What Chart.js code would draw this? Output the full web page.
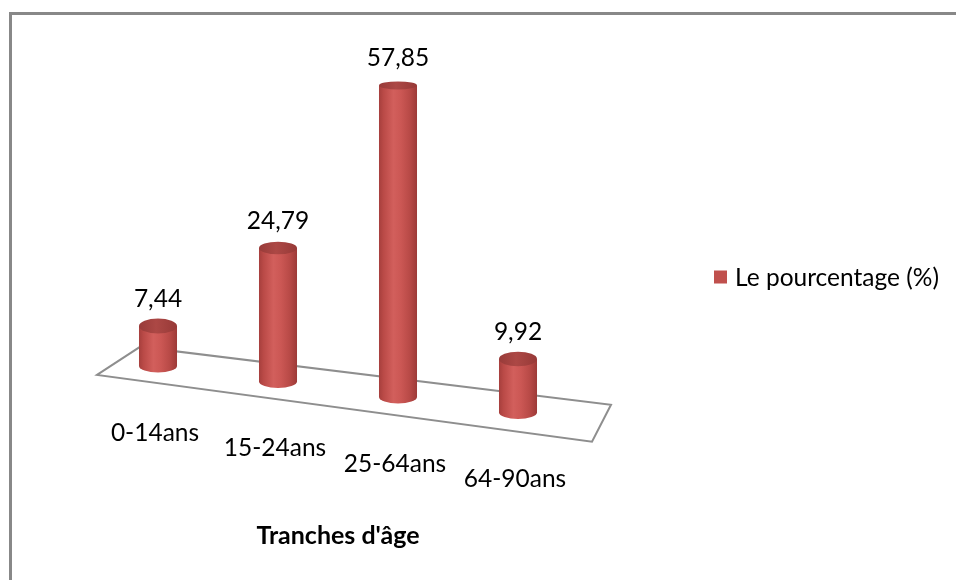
<!DOCTYPE html>
<html lang="fr">
<head>
<meta charset="utf-8">
<title>Tranches d'âge</title>
<script src="https://cdn.jsdelivr.net/npm/chart.js@4.4.1/dist/chart.umd.min.js"></script>
<style>
  html, body { margin: 0; padding: 0; background: #ffffff; }
  canvas { display: block; }
</style>
</head>
<body>
<canvas id="chart" width="956" height="580"></canvas>
<script>
// Data
const categories = ['0-14ans', '15-24ans', '25-64ans', '64-90ans'];
const percentages = [7.44, 24.79, 57.85, 9.92];
const seriesLabel = 'Le pourcentage (%)';
const axisTitle = "Tranches d'âge";
const valueMax = 65;

// Styling
const BAR_RED = '#C0504D';
const FONT = 'Lato, "Open Sans", sans-serif';
const TEXT_SIZE = 24.5;
const TITLE_SIZE = 25;
const FLOOR_SLOPE = 0.129;   // the floor recedes downward to the right

function formatValue(v) {
  return v.toFixed(2).replace('.', ',');
}

// y pixel of the floor's centre line at a given x
function floorY(chart, x) {
  const first = chart.getDatasetMeta(0).data[0];
  return chart.scales.y.getPixelForValue(0) + (x - first.x) * FLOOR_SLOPE;
}

function drawCylinder(ctx, cx, topY, baseY, rx) {
  const ryTop = Math.max(3.5, 8 - 0.0128 * (baseY - topY));
  const ryBottom = 6.5;

  // body with rounded bottom
  const body = ctx.createLinearGradient(cx - rx, 0, cx + rx, 0);
  body.addColorStop(0, '#a63f3d');
  body.addColorStop(0.12, '#ba4a47');
  body.addColorStop(0.38, '#d25f5c');
  body.addColorStop(0.58, '#cb5754');
  body.addColorStop(0.82, '#b74946');
  body.addColorStop(1, '#9d3a38');
  ctx.beginPath();
  ctx.moveTo(cx - rx, topY);
  ctx.lineTo(cx - rx, baseY);
  ctx.ellipse(cx, baseY, rx, ryBottom, 0, Math.PI, 0, true);
  ctx.lineTo(cx + rx, topY);
  ctx.closePath();
  ctx.fillStyle = body;
  ctx.fill();

  // cap
  const cap = ctx.createLinearGradient(cx - rx, 0, cx + rx, 0);
  cap.addColorStop(0, '#983b39');
  cap.addColorStop(0.45, '#ac4845');
  cap.addColorStop(1, '#973937');
  ctx.beginPath();
  ctx.ellipse(cx, topY, rx, ryTop, 0, 0, Math.PI * 2);
  ctx.fillStyle = cap;
  ctx.fill();
}

const cylinderPlugin = {
  id: 'cylinders',
  beforeDraw(chart) {
    const ctx = chart.ctx;
    ctx.save();
    ctx.fillStyle = '#ffffff';
    ctx.fillRect(0, 0, chart.width, chart.height);
    // frame (top and left edges)
    ctx.fillStyle = '#888888';
    ctx.fillRect(9, 12, chart.width - 9, 3);
    ctx.fillRect(9, 12, 3, chart.height - 12);
    ctx.restore();
  },
  beforeDatasetsDraw(chart) {
    const ctx = chart.ctx;
    const area = chart.chartArea;
    const xl = area.left + 20.5;
    const xr = area.right + 23.5;
    const yl = floorY(chart, xl);
    const yr = floorY(chart, xr);
    ctx.save();
    ctx.beginPath();
    ctx.moveTo(xl - 21.5, yl + 14);      // front left
    ctx.lineTo(xl + 21.5, yl - 14);      // back left
    ctx.lineTo(xr + 9.5, yr - 18.5);     // back right
    ctx.lineTo(xr - 9.5, yr + 18.5);     // front right
    ctx.closePath();
    ctx.fillStyle = '#ffffff';
    ctx.fill();
    ctx.lineWidth = 2;
    ctx.lineJoin = 'miter';
    ctx.strokeStyle = '#8e8e8e';
    ctx.stroke();
    ctx.restore();
  },
  beforeDatasetDraw() {
    return false;   // bars are painted as cylinders below
  },
  afterDatasetsDraw(chart) {
    const ctx = chart.ctx;
    const meta = chart.getDatasetMeta(0);
    const values = chart.data.datasets[0].data;
    ctx.save();
    meta.data.forEach((bar, i) => {
      const {x, y, base, width} = bar.getProps(['x', 'y', 'base', 'width'], true);
      const shift = floorY(chart, x) - base;
      const topY = y + shift;
      const baseY = base + shift;
      drawCylinder(ctx, x, topY, baseY, width / 2);

      ctx.fillStyle = '#000000';
      ctx.textAlign = 'center';
      ctx.textBaseline = 'alphabetic';
      ctx.font = TEXT_SIZE + 'px ' + FONT;
      ctx.fillText(formatValue(values[i]), x, topY - 19);
      ctx.fillText(chart.data.labels[i], x - 3, baseY + 75);
    });

    // legend
    const area = chart.chartArea;
    const lx = area.right + 136;
    const ly = 277;
    ctx.fillStyle = chart.data.datasets[0].backgroundColor;
    ctx.fillRect(lx, ly - 6.5, 13, 13);
    ctx.fillStyle = '#000000';
    ctx.textAlign = 'left';
    ctx.textBaseline = 'alphabetic';
    ctx.font = TEXT_SIZE + 'px ' + FONT;
    ctx.fillText(chart.data.datasets[0].label, lx + 21, ly + 8.5);
    ctx.restore();
  }
};

new Chart(document.getElementById('chart'), {
  type: 'bar',
  data: {
    labels: categories,
    datasets: [{
      label: seriesLabel,
      data: percentages,
      backgroundColor: BAR_RED,
      categoryPercentage: 0.8,
      barPercentage: 0.396
    }]
  },
  options: {
    responsive: false,
    animation: false,
    layout: { padding: { left: 98, right: 378, top: 16, bottom: 0 } },
    plugins: {
      legend: { display: false },
      tooltip: { enabled: false }
    },
    scales: {
      x: {
        grid: { display: false, drawTicks: false },
        border: { display: false },
        ticks: { display: false },
        title: {
          display: true,
          text: axisTitle,
          color: '#000000',
          font: { family: FONT, size: TITLE_SIZE, weight: 'bold' },
          padding: { top: 155, bottom: 29 }
        }
      },
      y: {
        display: false,
        min: 0,
        max: valueMax
      }
    }
  },
  plugins: [cylinderPlugin]
});
</script>
</body>
</html>
